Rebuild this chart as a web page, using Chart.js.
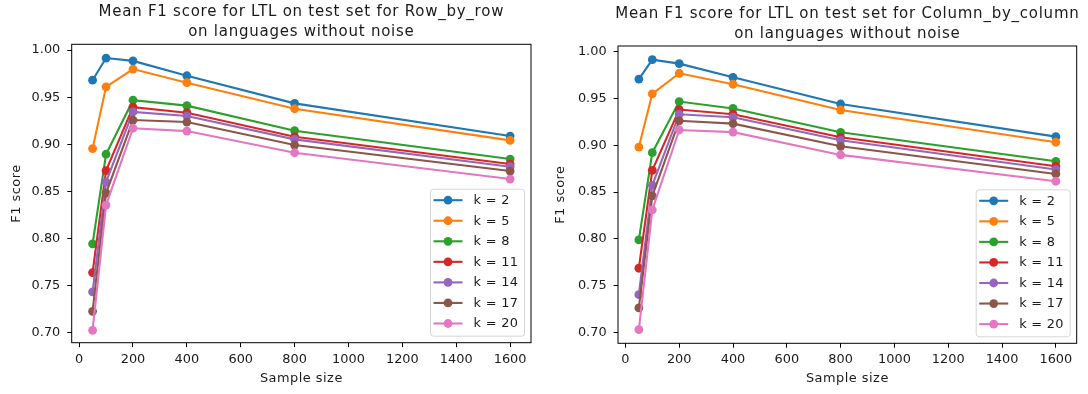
<!DOCTYPE html>
<html><head><meta charset="utf-8">
<script src="https://cdn.jsdelivr.net/npm/chart.js@4.4.0/dist/chart.umd.min.js"></script>
<style>
html,body{margin:0;padding:0;background:#fff;width:1088px;height:394px;overflow:hidden}
.c{position:absolute;top:0;width:544px;height:394px}
</style></head>
<body>
<div class="c" style="left:0"><canvas id="c1" width="544" height="394"></canvas></div>
<div class="c" style="left:544px"><canvas id="c2" width="544" height="394"></canvas></div>
<script>
// ---- data ----
const sampleSizes = [50, 100, 200, 400, 800, 1600];
const kLabels = ['k = 2', 'k = 5', 'k = 8', 'k = 11', 'k = 14', 'k = 17', 'k = 20'];
const xTickValues = [0, 200, 400, 600, 800, 1000, 1200, 1400, 1600];
const yTickValues = [0.70, 0.75, 0.80, 0.85, 0.90, 0.95, 1.00];
const titleRow = ['Mean F1 score for LTL on test set for Row_by_row', 'on languages without noise'];
const titleCol = ['Mean F1 score for LTL on test set for Column_by_column', 'on languages without noise'];
const xLabel = 'Sample size';
const yLabel = 'F1 score';

// Row_by_row
const row_k2  = [0.968, 0.9915, 0.9885, 0.9727, 0.9434, 0.9087];
const row_k5  = [0.8954, 0.9610, 0.9798, 0.9654, 0.9377, 0.9041];
const row_k8  = [0.7943, 0.8894, 0.9468, 0.9410, 0.9144, 0.8843];
const row_k11 = [0.7638, 0.8720, 0.9394, 0.9335, 0.9080, 0.8790];
const row_k14 = [0.7433, 0.8599, 0.9344, 0.9300, 0.9052, 0.8762];
const row_k17 = [0.7227, 0.8482, 0.9257, 0.9236, 0.8992, 0.8716];
const row_k20 = [0.7025, 0.8355, 0.9170, 0.9140, 0.8910, 0.8631];

// Column_by_column
const col_k2  = [0.9705, 0.9912, 0.9870, 0.9724, 0.9439, 0.9091];
const col_k5  = [0.8980, 0.9548, 0.9767, 0.9650, 0.9375, 0.9031];
const col_k8  = [0.7990, 0.8920, 0.9465, 0.9392, 0.9137, 0.8828];
const col_k11 = [0.7687, 0.8732, 0.9380, 0.9330, 0.9084, 0.8775];
const col_k14 = [0.7405, 0.8572, 0.9330, 0.9298, 0.9052, 0.8740];
const col_k17 = [0.7263, 0.8458, 0.9260, 0.9230, 0.8988, 0.8693];
const col_k20 = [0.7031, 0.8310, 0.9162, 0.9139, 0.8896, 0.8615];

const colors = ['#1f77b4', '#ff7f0e', '#2ca02c', '#d62728', '#9467bd', '#8c564b', '#e377c2'];

const FONT = 'DejaVu Sans';
const TXT = '#1a1a1a';

function setLS(ctx, v) { if ('letterSpacing' in ctx) ctx.letterSpacing = v; }

function makeChart(canvasId, seriesList, titleLines, geom) {
  const datasets = seriesList.map((vals, i) => ({
    label: kLabels[i],
    data: sampleSizes.map((x, j) => ({x: x, y: vals[j]})),
    borderColor: colors[i],
    backgroundColor: colors[i],
    pointBackgroundColor: colors[i],
    pointBorderWidth: 0,
    pointRadius: 4.4,
    borderWidth: 2.1,
    tension: 0,
    fill: false,
    order: -i
  }));

  const framePlugin = {
    id: 'frame',
    afterDatasetsDraw(chart) {
      const ca = chart.chartArea, ctx = chart.ctx;
      ctx.save();
      ctx.strokeStyle = '#000';
      ctx.lineWidth = 1;
      ctx.strokeRect(ca.left, ca.top, ca.right - ca.left, ca.bottom - ca.top);
      ctx.restore();
    }
  };

  const textPlugin = {
    id: 'mtitle',
    afterDraw(chart) {
      const ca = chart.chartArea, ctx = chart.ctx;
      ctx.save();
      ctx.fillStyle = TXT;
      ctx.font = '15px "' + FONT + '"';
      setLS(ctx, '0.75px');
      ctx.textAlign = 'center';
      ctx.textBaseline = 'alphabetic';
      const cx = (ca.left + ca.right) / 2;
      titleLines.forEach((t, i) => ctx.fillText(t, cx, geom.titleBase + i * 20.5));
      // axis titles
      ctx.font = '12.9px "' + FONT + '"';
      setLS(ctx, '0.5px');
      ctx.textBaseline = 'middle';
      ctx.fillText(xLabel, cx, 379);
      ctx.translate(16.5, (ca.top + ca.bottom) / 2);
      ctx.rotate(-Math.PI / 2);
      ctx.fillText(yLabel, 0, 0);
      ctx.restore();
    }
  };

  const legendPlugin = {
    id: 'mlegend',
    afterDraw(chart) {
      const ca = chart.chartArea, ctx = chart.ctx;
      const w = 94, h = 147;
      const right = ca.right - 7, bottom = ca.bottom - 7;
      const left = right - w, top = bottom - h;
      ctx.save();
      ctx.beginPath();
      ctx.roundRect(left + 0.5, top + 0.5, w, h, 3);
      ctx.fillStyle = 'rgba(255,255,255,0.8)';
      ctx.fill();
      ctx.strokeStyle = 'rgba(204,204,204,0.8)';
      ctx.lineWidth = 1;
      ctx.stroke();
      ctx.font = '12.9px "' + FONT + '"';
      setLS(ctx, '0.3px');
      ctx.textBaseline = 'middle';
      ctx.textAlign = 'left';
      chart.data.datasets.forEach((ds, i) => {
        const y = top + 11.5 + i * 20.55;
        ctx.strokeStyle = ds.borderColor;
        ctx.lineWidth = 2.1;
        ctx.beginPath();
        ctx.moveTo(left + 3.5, y);
        ctx.lineTo(left + 32.5, y);
        ctx.stroke();
        ctx.fillStyle = ds.borderColor;
        ctx.beginPath();
        ctx.arc(left + 18, y, 4.4, 0, Math.PI * 2);
        ctx.fill();
        ctx.fillStyle = TXT;
        ctx.fillText(ds.label, left + 43.5, y + 0.5);
      });
      ctx.restore();
    }
  };

  return new Chart(document.getElementById(canvasId), {
    type: 'line',
    data: {datasets: datasets},
    plugins: [framePlugin, textPlugin, legendPlugin],
    options: {
      responsive: false,
      animation: false,
      devicePixelRatio: 1,
      layout: {padding: {top: geom.top, right: geom.right, bottom: 0, left: 0}},
      plugins: {legend: {display: false}, title: {display: false}, tooltip: {enabled: false}},
      scales: {
        x: {
          type: 'linear',
          min: -27.5, max: 1677.5,
          afterBuildTicks: s => { s.ticks = xTickValues.map(v => ({value: v})); },
          afterFit: s => { s.height = geom.xHeight; },
          grid: {drawOnChartArea: false, drawTicks: true, tickLength: 4.4, color: '#000', lineWidth: 1},
          border: {display: false},
          ticks: {font: {family: FONT, size: 12.9}, color: TXT, padding: 4.5, maxRotation: 0, autoSkip: false,
                  callback: v => String(v)},
          title: {display: false}
        },
        y: {
          type: 'linear',
          min: geom.ymin, max: geom.ymax,
          afterBuildTicks: s => { s.ticks = yTickValues.map(v => ({value: v})); },
          afterFit: s => { s.width = geom.yWidth; },
          grid: {drawOnChartArea: false, drawTicks: true, tickLength: 4.4, color: '#000', lineWidth: 1},
          border: {display: false},
          ticks: {font: {family: FONT, size: 12.9}, color: TXT, padding: 7, autoSkip: false,
                  callback: v => Number(v).toFixed(2)},
          title: {display: false}
        }
      }
    }
  });
}

makeChart('c1', [row_k2, row_k5, row_k8, row_k11, row_k14, row_k17, row_k20], titleRow,
  {top: 44.3, right: 13, xHeight: 51.3, yWidth: 71.7, ymin: 0.6894, ymax: 1.0061, titleBase: 15.7});
makeChart('c2', [col_k2, col_k5, col_k8, col_k11, col_k14, col_k17, col_k20], titleCol,
  {top: 46, right: 11.3, xHeight: 50.7, yWidth: 74, ymin: 0.6886, ymax: 1.0058, titleBase: 17.8});
</script>
</body></html>
